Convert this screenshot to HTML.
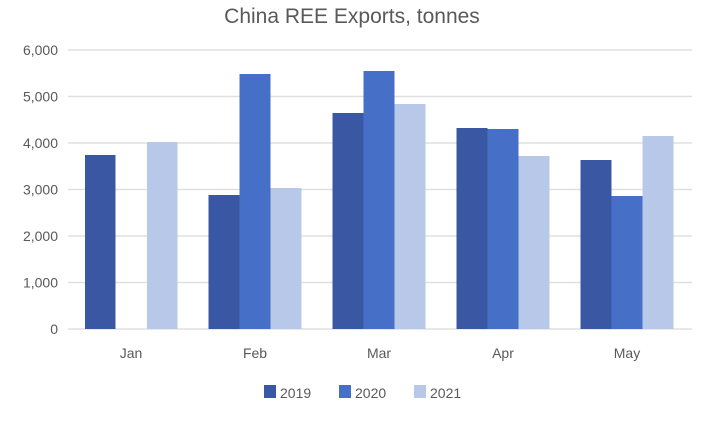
<!DOCTYPE html>
<html><head><style>
body{margin:0;background:#fff;}
svg text{font-family:"Liberation Sans",sans-serif;fill:#595959;}
</style></head><body>
<svg width="704" height="420" xmlns="http://www.w3.org/2000/svg">
<text x="352" y="23" font-size="21" text-anchor="middle">China REE Exports, tonnes</text>
<g stroke="#e0e0e0" stroke-width="1.5">
<line x1="68" x2="692" y1="50" y2="50"/>
<line x1="68" x2="692" y1="96.5" y2="96.5"/>
<line x1="68" x2="692" y1="143" y2="143"/>
<line x1="68" x2="692" y1="189.5" y2="189.5"/>
<line x1="68" x2="692" y1="236" y2="236"/>
<line x1="68" x2="692" y1="282.5" y2="282.5"/>
<line x1="68" x2="692" y1="329" y2="329"/>
</g>
<g font-size="14" text-anchor="end">
<text x="58" y="55">6,000</text>
<text x="58" y="101.5">5,000</text>
<text x="58" y="148">4,000</text>
<text x="58" y="194.5">3,000</text>
<text x="58" y="241">2,000</text>
<text x="58" y="287.5">1,000</text>
<text x="58" y="334">0</text>
</g>
<g>
<rect x="85" y="155" width="30.5" height="174" fill="#3a57a3"/>
<rect x="147" y="142" width="30.5" height="187" fill="#b7c8e8"/>
<rect x="208.5" y="195" width="31" height="134" fill="#3a57a3"/>
<rect x="239.5" y="74" width="31" height="255" fill="#4670c8"/>
<rect x="270.5" y="188" width="31" height="141" fill="#b7c8e8"/>
<rect x="332.5" y="113" width="31" height="216" fill="#3a57a3"/>
<rect x="363.5" y="71" width="31" height="258" fill="#4670c8"/>
<rect x="394.5" y="104" width="31" height="225" fill="#b7c8e8"/>
<rect x="456.5" y="128" width="31" height="201" fill="#3a57a3"/>
<rect x="487.5" y="129" width="31" height="200" fill="#4670c8"/>
<rect x="518.5" y="156" width="31" height="173" fill="#b7c8e8"/>
<rect x="580.5" y="160" width="31" height="169" fill="#3a57a3"/>
<rect x="611.5" y="196" width="31" height="133" fill="#4670c8"/>
<rect x="642.5" y="136" width="31" height="193" fill="#b7c8e8"/>
</g>
<g font-size="14" text-anchor="middle">
<text x="131" y="358">Jan</text>
<text x="255" y="358">Feb</text>
<text x="379" y="358">Mar</text>
<text x="503" y="358">Apr</text>
<text x="627" y="358">May</text>
</g>
<rect x="264" y="385" width="12" height="13" fill="#3a57a3"/>
<text x="280" y="398" font-size="14">2019</text>
<rect x="339" y="385" width="12" height="13" fill="#4670c8"/>
<text x="355" y="398" font-size="14">2020</text>
<rect x="414" y="385" width="12" height="13" fill="#b7c8e8"/>
<text x="430" y="398" font-size="14">2021</text>
</svg>
</body></html>
